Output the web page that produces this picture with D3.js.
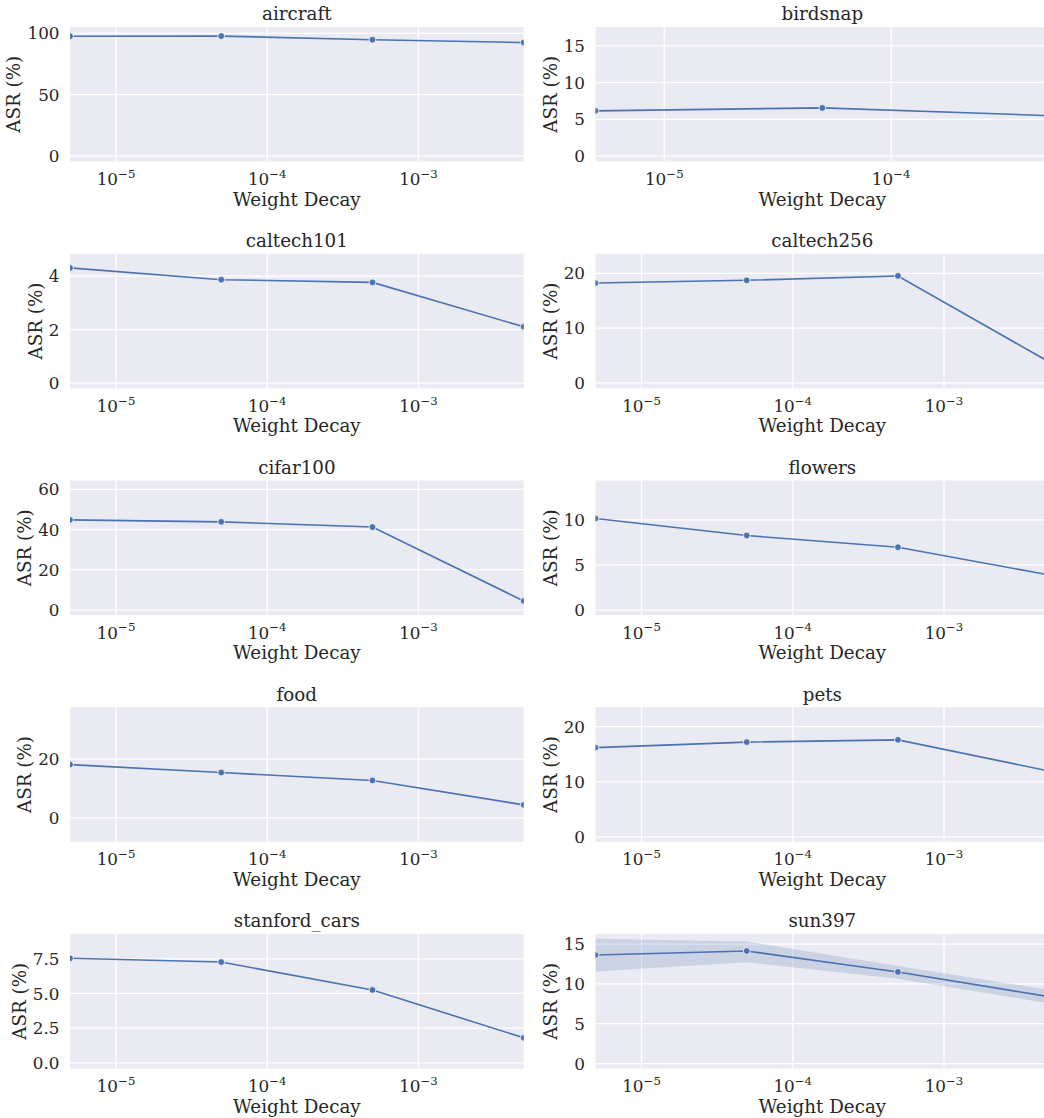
<!DOCTYPE html>
<html>
<head>
<meta charset="utf-8">
<script src="https://cdn.jsdelivr.net/npm/d3@7"></script>
<style>
  html, body { margin: 0; padding: 0; background: #ffffff; }
  svg { display: block; }
  text { font-family: "DejaVu Serif", serif; fill: #262626; }
</style>
</head>
<body>
<svg id="chart" width="1044" height="1118"></svg>
<script>
// ---------------- data ----------------
const datasets = ["aircraft", "birdsnap", "caltech101", "caltech256", "cifar100",
                  "flowers", "food", "pets", "stanford_cars", "sun397"];
const weightDecay = [5e-6, 5e-5, 5e-4, 5e-3];
const weightDecayBirdsnap = [5e-6, 5e-5, 5e-4];

const asrAircraft     = [97.2, 97.3, 94.3, 92.0];
const asrBirdsnap     = [6.1, 6.5, 5.45];
const asrCaltech101   = [4.29, 3.85, 3.75, 2.09];
const asrCaltech256   = [18.15, 18.65, 19.45, 3.75];
const asrCifar100     = [44.6, 43.6, 41.0, 4.2];
const asrFlowers      = [10.1, 8.21, 6.91, 3.85];
const asrFood         = [18.0, 15.3, 12.6, 4.3];
const asrPets         = [16.1, 17.1, 17.5, 11.85];
const asrStanfordCars = [7.5, 7.23, 5.22, 1.77];
const asrSun397       = [13.56, 14.07, 11.43, 8.33];
const asrSun397Low    = [11.5, 12.64, 10.57, 7.48];
const asrSun397High   = [15.6, 15.27, 12.19, 9.18];

// y-axis view limits and tick values
const yLimAircraft = [-4.96, 104.7],  yTicksAircraft = [0, 50, 100];
const yLimBirdsnap = [-0.79, 17.5],   yTicksBirdsnap = [0, 5, 10, 15];
const yLimCaltech101 = [-0.21, 4.82], yTicksCaltech101 = [0, 2, 4];
const yLimCaltech256 = [-1.05, 23.5], yTicksCaltech256 = [0, 10, 20];
const yLimCifar100 = [-2.8, 64.2],    yTicksCifar100 = [0, 20, 40, 60];
const yLimFlowers = [-0.59, 14.3],    yTicksFlowers = [0, 5, 10];
const yLimFood = [-8.25, 37.5],       yTicksFood = [0, 20];
const yLimPets = [-0.93, 23.4],       yTicksPets = [0, 10, 20];
const yLimStanfordCars = [-0.44, 9.25], yTicksStanfordCars = [0, 2.5, 5, 7.5];
const yLimSun397 = [-0.69, 16.2],     yTicksSun397 = [0, 5, 10, 15];

const xTickValues = [1e-5, 1e-4, 1e-3];
const xLabel = "Weight Decay";
const yLabel = "ASR (%)";

const panels = [
  { x: weightDecay, y: asrAircraft, lim: yLimAircraft, ticks: yTicksAircraft },
  { x: weightDecayBirdsnap, y: asrBirdsnap, lim: yLimBirdsnap, ticks: yTicksBirdsnap },
  { x: weightDecay, y: asrCaltech101, lim: yLimCaltech101, ticks: yTicksCaltech101 },
  { x: weightDecay, y: asrCaltech256, lim: yLimCaltech256, ticks: yTicksCaltech256 },
  { x: weightDecay, y: asrCifar100, lim: yLimCifar100, ticks: yTicksCifar100 },
  { x: weightDecay, y: asrFlowers, lim: yLimFlowers, ticks: yTicksFlowers },
  { x: weightDecay, y: asrFood, lim: yLimFood, ticks: yTicksFood },
  { x: weightDecay, y: asrPets, lim: yLimPets, ticks: yTicksPets },
  { x: weightDecay, y: asrStanfordCars, lim: yLimStanfordCars, ticks: yTicksStanfordCars, fmt: d3.format(".1f") },
  { x: weightDecay, y: asrSun397, lim: yLimSun397, ticks: yTicksSun397, low: asrSun397Low, high: asrSun397High }
].map((p, i) => Object.assign(p, { name: datasets[i] }));

// ---------------- layout ----------------
const colLeft = [70, 595.5];
const plotW = 453.7;
const rowTop0 = 27, rowStep = 226.75, plotH = 134.5;
const color = "#4C72B0";
const bg = "#EAEAF2";
const tickFont = 16.8, labelFont = 18.3;

const svg = d3.select("#chart");
svg.append("rect").attr("width", 1044).attr("height", 1118).attr("fill", "#fff");

panels.forEach((p, i) => {
  const col = i % 2, row = Math.floor(i / 2);
  const left = colLeft[col], top = rowTop0 + row * rowStep;
  const g = svg.append("g");

  const x = d3.scaleLog().domain([p.x[0], p.x[p.x.length - 1]]).range([left, left + plotW]);
  const y = d3.scaleLinear().domain(p.lim).range([top + plotH, top]);

  g.append("rect").attr("x", left).attr("y", top).attr("width", plotW).attr("height", plotH).attr("fill", bg);

  const clipId = "clip" + i;
  svg.append("clipPath").attr("id", clipId).append("rect")
    .attr("x", left).attr("y", top).attr("width", plotW).attr("height", plotH);

  // x axis with grid
  const xt = xTickValues.filter(v => v >= x.domain()[0] && v <= x.domain()[1]);
  const gx = g.append("g").attr("transform", `translate(0,${top + plotH})`)
    .call(d3.axisBottom(x).tickValues(xt).tickSize(-plotH).tickPadding(0).tickFormat(() => ""));
  gx.select(".domain").remove();
  gx.selectAll(".tick line").attr("stroke", "#fff").attr("stroke-width", 1.25);
  gx.selectAll(".tick text").each(function(d) {
    const t = d3.select(this);
    const e = Math.round(Math.log10(d));
    t.attr("y", 23.6).attr("dy", null).attr("font-size", tickFont).attr("fill", "#262626")
      .attr("font-family", "DejaVu Serif");
    t.append("tspan").text("10");
    t.append("tspan").attr("font-size", tickFont * 0.7).attr("dy", -7.2)
      .text(String(e).replace("-", "\u2212"));
  });

  // y axis with grid
  const gy = g.append("g").attr("transform", `translate(${left},0)`)
    .call(d3.axisLeft(y).tickValues(p.ticks).tickSize(-plotW).tickPadding(10.5)
      .tickFormat(p.fmt || d3.format("d")));
  gy.select(".domain").remove();
  gy.selectAll(".tick line").attr("stroke", "#fff").attr("stroke-width", 1.25);
  gy.selectAll(".tick text").attr("font-size", tickFont).attr("fill", "#262626")
    .attr("font-family", "DejaVu Serif").attr("dy", "0.36em");

  let maxW = 0;
  gy.selectAll(".tick text").each(function() { maxW = Math.max(maxW, this.getBBox().width); });

  // series
  const pts = p.x.map((xv, k) => ({ x: xv, y: p.y[k], lo: p.low ? p.low[k] : null, hi: p.high ? p.high[k] : null }));
  const plot = g.append("g").attr("clip-path", `url(#${clipId})`);
  if (p.low) {
    plot.append("path").datum(pts)
      .attr("d", d3.area().x(d => x(d.x)).y0(d => y(d.lo)).y1(d => y(d.hi)))
      .attr("fill", color).attr("fill-opacity", 0.2).attr("stroke", "none");
  }
  plot.append("path").datum(pts)
    .attr("d", d3.line().x(d => x(d.x)).y(d => y(d.y)))
    .attr("fill", "none").attr("stroke", color).attr("stroke-width", 1.6);
  plot.selectAll("circle").data(pts).join("circle")
    .attr("cx", d => x(d.x)).attr("cy", d => y(d.y)).attr("r", 3.4)
    .attr("fill", color).attr("stroke", "#fff").attr("stroke-width", 0.8);

  // title
  g.append("text").attr("x", left + plotW / 2).attr("y", top - 6.7)
    .attr("text-anchor", "middle").attr("font-size", labelFont).text(p.name);

  // x label
  g.append("text").attr("x", left + plotW / 2).attr("y", top + plotH + 44)
    .attr("text-anchor", "middle").attr("font-size", labelFont).text(xLabel);

  // y label
  const lx = left - 10.5 - maxW - 7;
  g.append("text").attr("transform", `translate(${lx},${top + plotH / 2}) rotate(-90)`)
    .attr("text-anchor", "middle").attr("font-size", labelFont).text(yLabel);
});
</script>
</body>
</html>
